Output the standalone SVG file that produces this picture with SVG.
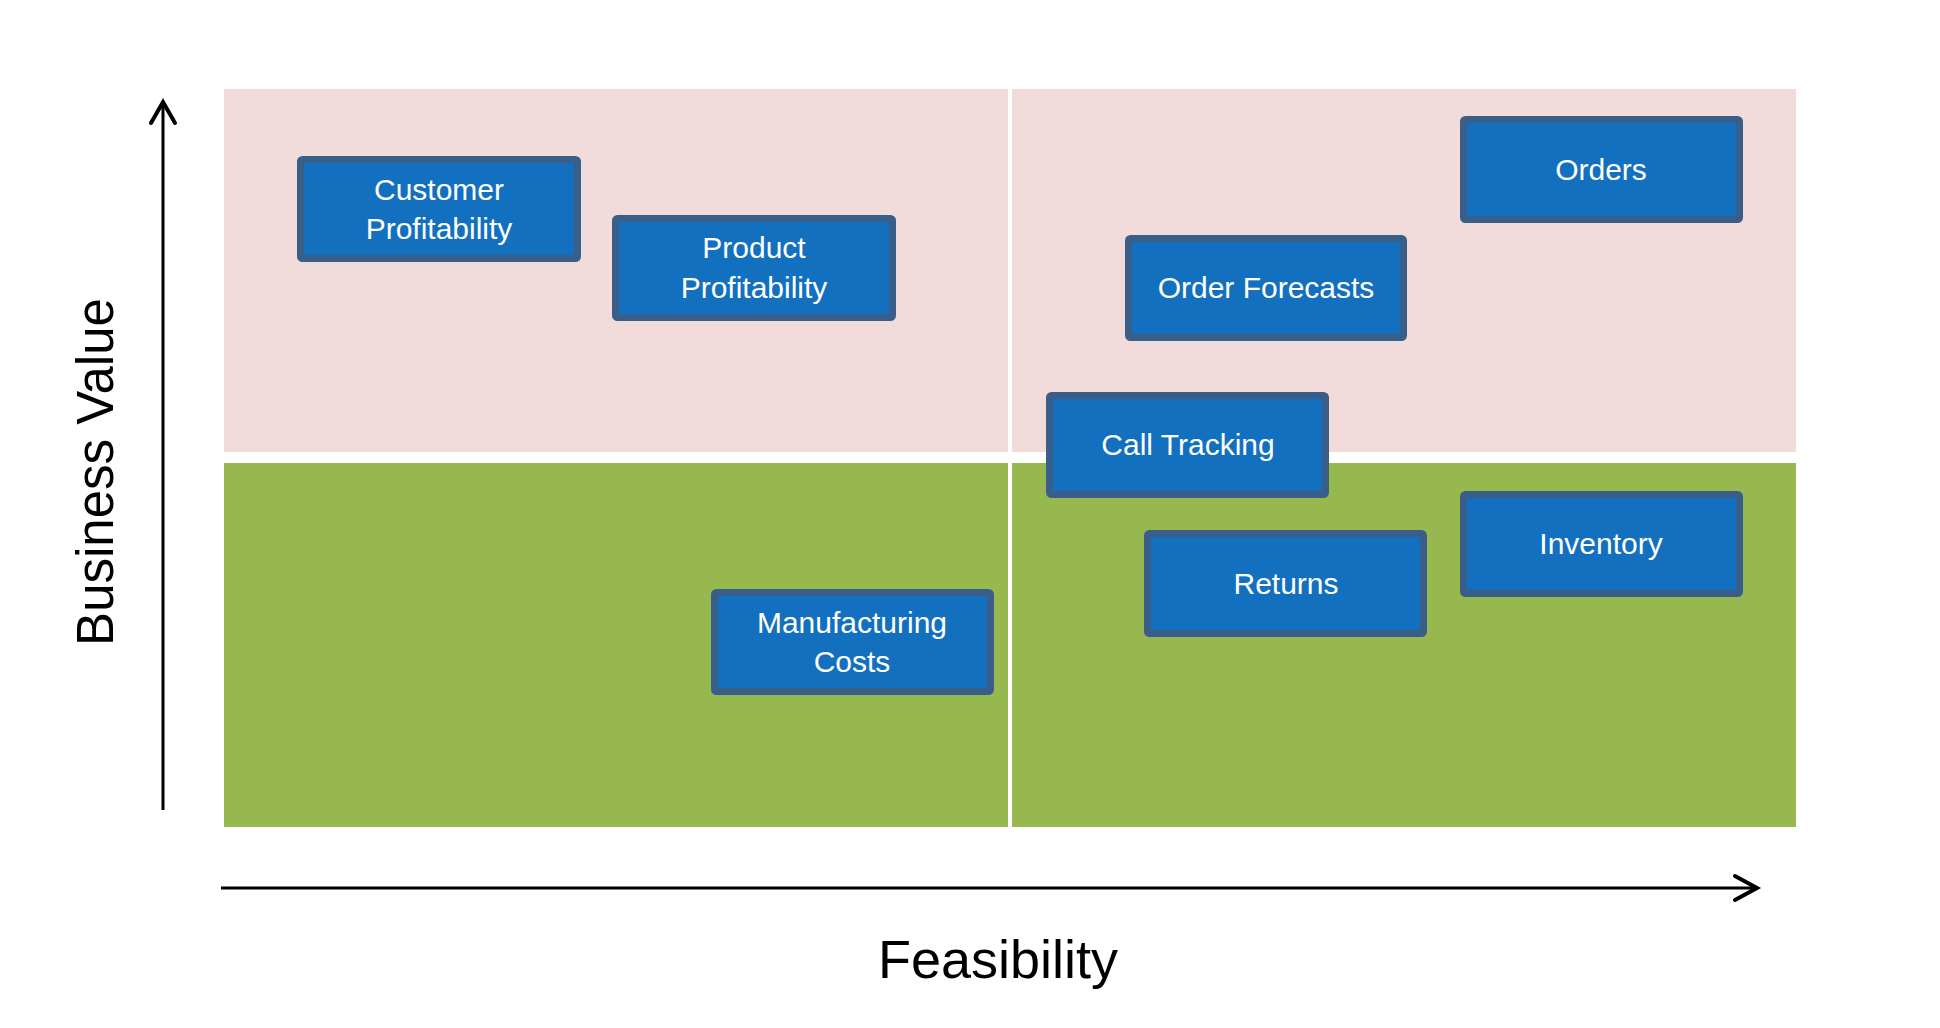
<svg xmlns="http://www.w3.org/2000/svg" width="1940" height="1028" viewBox="0 0 1940 1028">
<style>
.box{fill:#1370BF;stroke:#3A5E8A;stroke-width:7}
.lbl{font-family:"Liberation Sans",Arial,sans-serif;font-size:30px;fill:#FFFFFF;text-anchor:middle}
.axis{font-family:"Liberation Sans",Arial,sans-serif;font-size:51px;fill:#000000;text-anchor:middle}
.ax{fill:none;stroke:#000000;stroke-width:3}
.head{fill:none;stroke:#000000;stroke-width:4;stroke-linecap:round;stroke-linejoin:miter}
</style>
<rect x="0" y="0" width="1940" height="1028" fill="#FFFFFF"/>
<g id="quadrants">
<rect x="224" y="89" width="784" height="363" fill="#F2DCDB"/>
<rect x="1012" y="89" width="784" height="363" fill="#F2DCDB"/>
<rect x="224" y="463" width="784" height="364" fill="#97B74F"/>
<rect x="1012" y="463" width="784" height="364" fill="#97B74F"/>
</g>
<g id="connectors">
<line class="ax" x1="163" y1="103" x2="163" y2="810"/>
<polyline class="head" points="151,123 163,102 175,123"/>
<line class="ax" x1="221" y1="888" x2="1756" y2="888"/>
<polyline class="head" points="1735,876 1757,888 1735,900"/>
</g>
<g id="axis-y"><text class="axis" transform="translate(113,472) rotate(-90)">Business Value</text></g>
<g id="axis-x"><text class="axis" x="998" y="978" style="font-size:54px">Feasibility</text></g>
<g id="customer-profitability">
<rect class="box" x="300.5" y="159.5" width="277" height="99" rx="2"/>
<text class="lbl" x="439" y="200">Customer</text>
<text class="lbl" x="439" y="239">Profitability</text>
</g>
<g id="product-profitability">
<rect class="box" x="615.5" y="218.5" width="277" height="99" rx="2"/>
<text class="lbl" x="754" y="258">Product</text>
<text class="lbl" x="754" y="298">Profitability</text>
</g>
<g id="orders">
<rect class="box" x="1463.5" y="119.5" width="276" height="100" rx="2"/>
<text class="lbl" x="1601" y="180">Orders</text>
</g>
<g id="order-forecasts">
<rect class="box" x="1128.5" y="238.5" width="275" height="99" rx="2"/>
<text class="lbl" x="1266" y="298">Order Forecasts</text>
</g>
<g id="call-tracking">
<rect class="box" x="1049.5" y="395.5" width="276" height="99" rx="2"/>
<text class="lbl" x="1188" y="455">Call Tracking</text>
</g>
<g id="returns">
<rect class="box" x="1147.5" y="533.5" width="276" height="100" rx="2"/>
<text class="lbl" x="1286" y="594">Returns</text>
</g>
<g id="inventory">
<rect class="box" x="1463.5" y="494.5" width="276" height="99" rx="2"/>
<text class="lbl" x="1601" y="554">Inventory</text>
</g>
<g id="manufacturing-costs">
<rect class="box" x="714.5" y="592.5" width="276" height="99" rx="2"/>
<text class="lbl" x="852" y="633">Manufacturing</text>
<text class="lbl" x="852" y="672">Costs</text>
</g>
</svg>
